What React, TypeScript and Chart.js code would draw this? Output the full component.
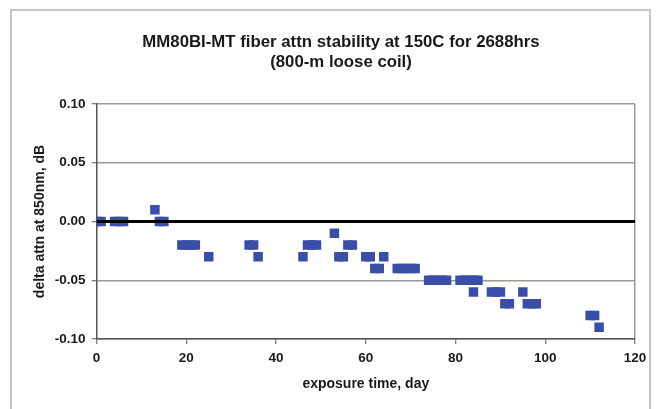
import React, { useEffect, useRef } from 'react';
import { Chart, registerables } from 'chart.js';

Chart.register(...registerables);

// ---- data ----
const days = [
  0, 1, 4, 5, 6, 13, 14, 15, 19, 20, 21, 22, 25, 34, 35, 36,
  46, 47, 48, 49, 53, 54, 55, 56, 57, 60, 61, 62, 63, 64,
  67, 68, 69, 70, 71, 74, 75, 76, 77, 78, 81, 82, 83, 84, 85, 84,
  88, 89, 90, 91, 92, 95, 96, 97, 98, 110, 111, 112,
];
const attn = [
  0, 0, 0, 0, 0, 0.01, 0, 0, -0.02, -0.02, -0.02, -0.02, -0.03, -0.02, -0.02, -0.03,
  -0.03, -0.02, -0.02, -0.02, -0.01, -0.03, -0.03, -0.02, -0.02, -0.03, -0.03, -0.04, -0.04, -0.03,
  -0.04, -0.04, -0.04, -0.04, -0.04, -0.05, -0.05, -0.05, -0.05, -0.05, -0.05, -0.05, -0.05, -0.05, -0.05, -0.06,
  -0.06, -0.06, -0.06, -0.07, -0.07, -0.06, -0.07, -0.07, -0.07, -0.08, -0.08, -0.09,
];
const zeroLineX = [0, 120];
const zeroLineY = [0, 0];

const xTicks = [0, 20, 40, 60, 80, 100, 120];
const xTickLabels = ['0', '20', '40', '60', '80', '100', '120'];
const yTicks = [-0.1, -0.05, 0, 0.05, 0.1];
const yTickLabels = ['-0.10', '-0.05', '0.00', '0.05', '0.10'];

const titleLines = ['MM80BI-MT fiber attn stability at 150C for 2688hrs', '(800-m loose coil)'];
const xTitle = 'exposure time, day';
const yTitle = 'delta attn at 850nm, dB';

const FONT = "'Liberation Sans', Arial, sans-serif";
const TEXT = '#1a1a1a';
const GRID = '#9a9a9a';
const AXIS = '#555555';
const MARK = '#3a4ea8';

function labelFor(values: number[], labels: string[], v: number) {
  const i = values.findIndex((t) => Math.abs(t - v) < 1e-9);
  return i >= 0 ? labels[i] : '';
}

export default function App() {
  const ref = useRef<HTMLCanvasElement | null>(null);

  useEffect(() => {
    if (!ref.current) return;
    const chart = new Chart(ref.current, {
      type: 'scatter',
      data: {
        datasets: [
          {
            label: 'zero',
            data: zeroLineX.map((x, i) => ({ x, y: zeroLineY[i] })),
            showLine: true,
            borderColor: '#000000',
            borderWidth: 3,
            pointRadius: 0,
            order: 0,
          },
          {
            label: 'delta attn',
            data: days.map((x, i) => ({ x, y: attn[i] })),
            pointStyle: 'rect',
            pointRadius: 6.7,
            pointBorderWidth: 0,
            backgroundColor: MARK,
            borderColor: MARK,
            order: 1,
          },
        ],
      },
      options: {
        responsive: false,
        animation: false,
        events: [],
        layout: { padding: { left: 31.6, right: 8.6, top: 0, bottom: 16.6 } },
        plugins: {
          legend: { display: false },
          tooltip: { enabled: false },
          title: {
            display: true,
            text: titleLines,
            color: TEXT,
            font: { family: FONT, size: 16.8, weight: 'bold', lineHeight: 1.15 },
            padding: { top: 33, bottom: 32.4 },
          },
        },
        scales: {
          x: {
            type: 'linear',
            min: 0,
            max: 120,
            afterBuildTicks: (s: any) => {
              s.ticks = xTicks.map((v) => ({ value: v }));
            },
            ticks: {
              color: TEXT,
              padding: 6,
              font: { family: FONT, size: 13.5, weight: 'bold' },
              callback: (v: any) => labelFor(xTicks, xTickLabels, Number(v)),
            },
            grid: {
              color: (c: any) => (c.tick && c.tick.value === 120 ? GRID : 'rgba(0,0,0,0)'),
              lineWidth: 1.5,
              tickColor: AXIS,
              tickWidth: 1,
              tickLength: 5,
            },
            border: { color: AXIS, width: 1.5 },
            title: {
              display: true,
              text: xTitle,
              color: TEXT,
              font: { family: FONT, size: 14, weight: 'bold', lineHeight: 1.2 },
              padding: { top: 3.4, bottom: 0 },
            },
          },
          y: {
            type: 'linear',
            min: -0.1,
            max: 0.1,
            afterBuildTicks: (s: any) => {
              s.ticks = yTicks.map((v) => ({ value: v }));
            },
            afterFit: (s: any) => {
              s.width = 65;
            },
            ticks: {
              color: TEXT,
              padding: 6,
              font: { family: FONT, size: 13.5, weight: 'bold' },
              callback: (v: any) => labelFor(yTicks, yTickLabels, Number(v)),
            },
            grid: {
              color: GRID,
              lineWidth: 1.5,
              tickColor: AXIS,
              tickWidth: 1,
              tickLength: 5,
            },
            border: { color: AXIS, width: 1.5 },
            title: {
              display: true,
              text: yTitle,
              color: TEXT,
              font: { family: FONT, size: 14, weight: 'bold', lineHeight: 1.2 },
              padding: { top: 0.5, bottom: 4 },
            },
          },
          yRightSpacer: {
            type: 'linear',
            position: 'right',
            display: true,
            afterFit: (s: any) => {
              s.width = 15.4;
            },
            ticks: { display: false },
            grid: { display: false, drawTicks: false },
            border: { display: false },
          },
        },
      },
    } as any);
    return () => chart.destroy();
  }, []);

  return (
    <div
      style={{
        position: 'fixed',
        left: 0,
        top: 0,
        width: 659,
        height: 409,
        background: '#ffffff',
        overflow: 'hidden',
      }}
    >
      <div
        style={{
          position: 'absolute',
          left: 10,
          top: 9,
          width: 641,
          height: 430,
          border: '2px solid #c6c6c6',
          boxSizing: 'border-box',
        }}
      />
      <canvas
        ref={ref}
        width={659}
        height={409}
        style={{ position: 'absolute', left: 0, top: 0, width: 659, height: 409 }}
      />
    </div>
  );
}
